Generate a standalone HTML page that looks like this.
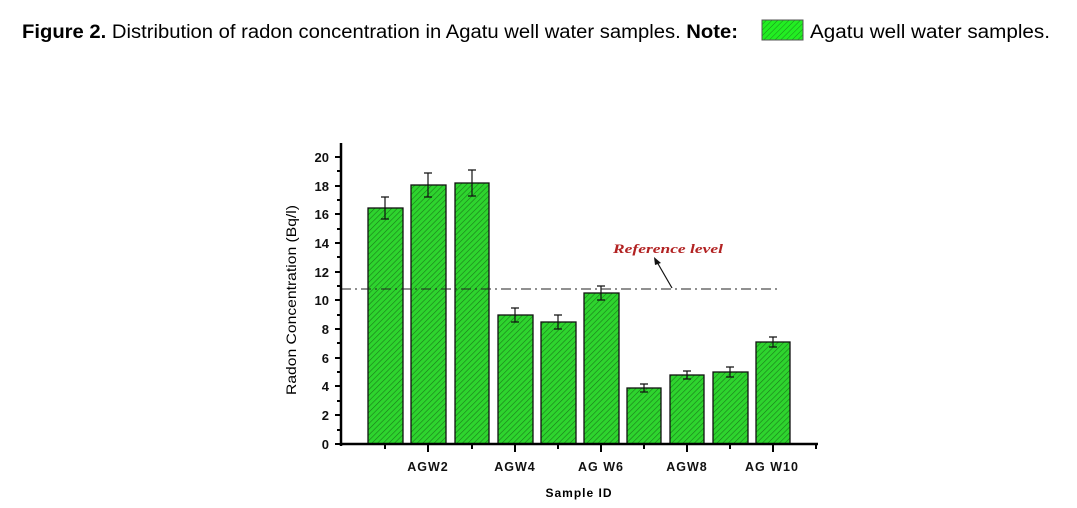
<!DOCTYPE html>
<html><head><style>
html,body{margin:0;padding:0;background:#fff;}
svg{display:block;}
</style></head><body>
<svg width="1077" height="508" viewBox="0 0 1077 508" xmlns="http://www.w3.org/2000/svg" font-family="Liberation Sans, sans-serif">
<defs>
<pattern id="h" width="4" height="4" patternUnits="userSpaceOnUse" patternTransform="rotate(45)">
<rect width="4" height="4" fill="#2ed42e"/>
<line x1="0" y1="0" x2="0" y2="4" stroke="#1a7a1a" stroke-width="1.2"/>
</pattern>
<pattern id="h2" width="4" height="4" patternUnits="userSpaceOnUse" patternTransform="rotate(45)">
<rect width="4" height="4" fill="#22ee22"/>
<line x1="0" y1="0" x2="0" y2="4" stroke="#1a8a1a" stroke-width="1"/>
</pattern>
</defs>
<text x="22" y="38" font-size="19" textLength="716" lengthAdjust="spacingAndGlyphs"><tspan font-weight="bold">Figure 2.</tspan> Distribution of radon concentration in Agatu well water samples. <tspan font-weight="bold">Note:</tspan></text>
<rect x="762" y="20" width="41" height="20" fill="url(#h2)" stroke="#555" stroke-width="1"/>
<text x="810" y="38" font-size="19" textLength="240" lengthAdjust="spacingAndGlyphs">Agatu well water samples.</text>

<g stroke="#111" stroke-width="1.3" fill="url(#h)">
<rect x="368" y="208" width="35" height="236"/>
<rect x="411" y="185" width="35" height="259"/>
<rect x="455" y="183" width="34" height="261"/>
<rect x="498" y="315" width="35" height="129"/>
<rect x="541" y="322" width="35" height="122"/>
<rect x="584" y="293" width="35" height="151"/>
<rect x="627" y="388" width="34" height="56"/>
<rect x="670" y="375" width="34" height="69"/>
<rect x="713" y="372" width="35" height="72"/>
<rect x="756" y="342" width="34" height="102"/>
</g>
<g stroke="#111" stroke-width="1.2">
<path d="M385 197V219M381 197h8M381 219h8"/>
<path d="M428 173V197M424 173h8M424 197h8"/>
<path d="M472 170V196M468 170h8M468 196h8"/>
<path d="M515 308V322M511 308h8M511 322h8"/>
<path d="M558 315V329M554 315h8M554 329h8"/>
<path d="M601 286V300M597 286h8M597 300h8"/>
<path d="M644 384V392M640 384h8M640 392h8"/>
<path d="M687 371V379M683 371h8M683 379h8"/>
<path d="M730 367V377M726 367h8M726 377h8"/>
<path d="M773 337V347M769 337h8M769 347h8"/>
</g>
<line x1="341" y1="289" x2="781" y2="289" stroke="#222" stroke-width="1" stroke-dasharray="10,4,2,4"/>
<text x="613" y="253" font-family="Liberation Serif, serif" font-style="italic" font-weight="bold" font-size="13" fill="#b22222" textLength="110" lengthAdjust="spacingAndGlyphs">Reference level</text>
<line x1="672" y1="288" x2="657" y2="262" stroke="#111" stroke-width="1.2"/>
<path d="M654 257 L661 263 L655 265 Z" fill="#111"/>
<g stroke="#000" stroke-width="2.5">
<line x1="341" y1="143" x2="341" y2="446"/>
<line x1="340" y1="444" x2="818" y2="444"/>
</g>
<g stroke="#000" stroke-width="2">
<path d="M341 157h-6M341 186h-6M341 214h-6M341 243h-6M341 272h-6M341 300h-6M341 329h-6M341 358h-6M341 386h-6M341 415h-6M341 444h-6"/>
<path d="M341 171h-4M341 200h-4M341 229h-4M341 257h-4M341 286h-4M341 315h-4M341 343h-4M341 372h-4M341 401h-4M341 430h-4"/>
<path d="M385 444v5M428 444v8M472 444v5M515 444v8M558 444v5M601 444v8M644 444v5M687 444v8M730 444v5M773 444v8M816 444v5"/>
</g>
<g font-size="13" font-weight="bold" text-anchor="end" fill="#111">
<text x="329" y="162">20</text><text x="329" y="191">18</text><text x="329" y="219">16</text>
<text x="329" y="248">14</text><text x="329" y="277">12</text><text x="329" y="305">10</text>
<text x="329" y="334">8</text><text x="329" y="363">6</text><text x="329" y="391">4</text>
<text x="329" y="420">2</text><text x="329" y="449">0</text>
</g>
<g font-size="12.5" font-weight="bold" text-anchor="middle" fill="#111" letter-spacing="1">
<text x="428" y="471">AGW2</text><text x="515" y="471">AGW4</text><text x="601" y="471">AG W6</text>
<text x="687" y="471">AGW8</text><text x="772" y="471">AG W10</text>
</g>
<text x="579" y="497" font-size="12" font-weight="bold" text-anchor="middle" letter-spacing="1">Sample ID</text>
<text transform="translate(296,300) rotate(-90)" font-size="14" text-anchor="middle" textLength="190" lengthAdjust="spacingAndGlyphs">Radon Concentration (Bq/l)</text>
</svg>
</body></html>
